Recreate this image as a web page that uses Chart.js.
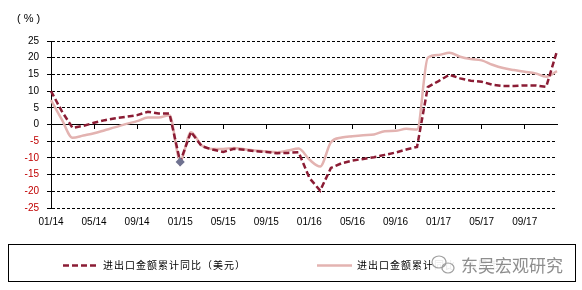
<!DOCTYPE html>
<html>
<head>
<meta charset="utf-8">
<script src="https://cdn.jsdelivr.net/npm/chart.js@4.4.1/dist/chart.umd.min.js"></script>
<style>
  html, body { margin: 0; padding: 0; background: #fff; }
</style>
</head>
<body>
<canvas id="myChart" width="582" height="290"></canvas>
<script>
// months on the category axis, 01/14 .. 12/17
const months = [
  "01/14", "02/14", "03/14", "04/14", "05/14", "06/14", "07/14", "08/14", "09/14", "10/14", "11/14", "12/14",
  "01/15", "02/15", "03/15", "04/15", "05/15", "06/15", "07/15", "08/15", "09/15", "10/15", "11/15", "12/15",
  "01/16", "02/16", "03/16", "04/16", "05/16", "06/16", "07/16", "08/16", "09/16", "10/16", "11/16", "12/16",
  "01/17", "02/17", "03/17", "04/17", "05/17", "06/17", "07/17", "08/17", "09/17", "10/17", "11/17", "12/17"
];

// 进出口金额累计同比（美元）
const usdSeries = [
  10.0, 4.0, -1.0, -0.4, 0.5, 1.3, 1.9, 2.3, 2.8, 3.8, 3.3, 3.3,
  -11.2, -2.2, -6.5, -7.5, -8.2, -7.3, -7.6, -8.0, -8.2, -8.6, -8.5, -8.3,
  -16.0, -19.8, -13.0, -11.6, -10.8, -10.3, -9.8, -9.1, -8.4, -7.5, -6.7, 11.2,
  13.0, 14.9, 13.8, 13.1, 12.8, 11.9, 11.5, 11.5, 11.7, 11.7, 11.3, 22.0
];

// 进出口金额累计同比（人民币）
const rmbSeries = [
  7.3, 1.5, -4.0, -3.3, -2.6, -1.7, -0.8, 0.2, 1.0, 2.1, 2.1, 2.8,
  -10.8, -2.3, -6.3, -7.3, -7.3, -7.0, -7.4, -7.8, -8.1, -8.3, -7.8, -7.2,
  -10.5, -12.6, -5.3, -3.9, -3.5, -3.2, -3.0, -2.0, -1.9, -1.3, -1.5, 20.0,
  20.8, 21.5, 20.3, 19.6, 19.2, 17.9, 16.9, 16.3, 15.8, 15.3, 14.3, 16.0
];

const seriesNames = ["进出口金额累计同比（美元）", "进出口金额累计同比（人民币）"];
const yRange = [-25, 25];
const yStep = 5;
const labelEvery = 4;
const unitText = "(%)";
const watermarkText = "东吴宏观研究";

const usdColor = "#8b1c34";
const rmbColor = "#e3b3b1";

// draws the unit, the boxed legend and the watermark
const extras = {
  id: "extras",
  afterDraw(chart) {
    const ctx = chart.ctx;
    ctx.save();
    ctx.fillStyle = "#000";
    ctx.textBaseline = "middle";
    ctx.font = '11px "Liberation Sans"';
    ctx.letterSpacing = "3px";
    ctx.fillText(unitText, 17, 19);
    ctx.letterSpacing = "0px";

    ctx.strokeStyle = "#000";
    ctx.lineWidth = 1;
    ctx.strokeRect(8.5, 244.5, 567, 37);

    const xs = [63, 317];
    chart.data.datasets.forEach((ds, i) => {
      const y = 265.5;
      ctx.beginPath();
      ctx.setLineDash(ds.borderDash || []);
      ctx.strokeStyle = ds.borderColor;
      ctx.lineWidth = ds.borderWidth;
      ctx.moveTo(xs[i], y);
      ctx.lineTo(xs[i] + 35, y);
      ctx.stroke();
      ctx.setLineDash([]);
      ctx.font = '10px "Noto Sans CJK SC"';
      ctx.letterSpacing = "1px";
      ctx.fillStyle = "#000";
      ctx.fillText(ds.label, xs[i] + 40, y);
      ctx.letterSpacing = "0px";
    });

    // watermark over the second legend entry
    ctx.fillStyle = "rgba(255,255,255,0.9)";
    ctx.fillRect(432, 250, 140, 29);
    ctx.strokeStyle = "#a0a0a0";
    ctx.lineWidth = 1.2;
    ctx.beginPath();
    ctx.ellipse(439, 262, 7, 6, 0, 0, Math.PI * 2);
    ctx.stroke();
    ctx.beginPath();
    ctx.ellipse(448, 268, 6, 5, 0, 0, Math.PI * 2);
    ctx.stroke();
    ctx.fillStyle = "#8e8e8e";
    ctx.font = '17px "Noto Sans CJK SC"';
    ctx.fillText(watermarkText, 461, 266);
    ctx.restore();
  }
};

let ctx = document.getElementById("myChart");
let myChart = new Chart(ctx.getContext("2d"), {
  type: "line",
  data: {
    labels: months,
    datasets: [{
      label: seriesNames[0],
      data: usdSeries,
      borderColor: usdColor,
      backgroundColor: usdColor,
      borderWidth: 2.5,
      borderDash: [6, 3],
      tension: 0,
      pointRadius: c => (c.dataIndex === 12 ? 2.8 : 0),
      pointStyle: "rectRot",
      pointBackgroundColor: "#6f7290",
      pointBorderColor: "#6f7290",
      order: 0
    }, {
      label: seriesNames[1],
      data: rmbSeries,
      borderColor: rmbColor,
      backgroundColor: rmbColor,
      borderWidth: 2.5,
      cubicInterpolationMode: "monotone",
      pointRadius: 0,
      order: 1
    }]
  },
  options: {
    responsive: false,
    animation: false,
    layout: { padding: { left: 0, right: 25, top: 41, bottom: 52 } },
    plugins: {
      legend: { display: false },
      tooltip: { enabled: false }
    },
    scales: {
      x: {
        type: "category",
        offset: false,
        grid: { display: false, drawTicks: false },
        border: { display: false },
        ticks: {
          autoSkip: false,
          maxRotation: 0,
          padding: 8,
          color: "#000",
          font: { family: "Liberation Sans", size: 10 },
          callback: (v, i) => (i % labelEvery === 0 ? months[i] : "")
        },
        afterFit: s => { s.height = 30; }
      },
      x2: {
        type: "category",
        axis: "x",
        labels: months,
        offset: false,
        position: { y: 0 },
        grid: {
          drawOnChartArea: false,
          drawTicks: true,
          tickLength: 4,
          tickColor: c => (c.index % labelEvery === 0 ? "#000" : "rgba(0,0,0,0)")
        },
        border: { display: true, color: "#000", width: 1 },
        ticks: { display: false }
      },
      y: {
        min: yRange[0],
        max: yRange[1],
        grid: {
          color: "#000",
          lineWidth: 1,
          tickLength: 4,
          tickColor: "#000"
        },
        border: {
          display: true,
          color: "#000",
          width: 1,
          dash: c => (c.tick && c.tick.value === 0 ? [] : [3, 2])
        },
        ticks: {
          stepSize: yStep,
          padding: 8,
          font: { family: "Liberation Sans", size: 10 },
          color: c => (c.tick && c.tick.value < 0 ? "#c00000" : "#000")
        },
        afterFit: s => { s.width = 51; }
      }
    }
  },
  plugins: [extras]
});
</script>
</body>
</html>
